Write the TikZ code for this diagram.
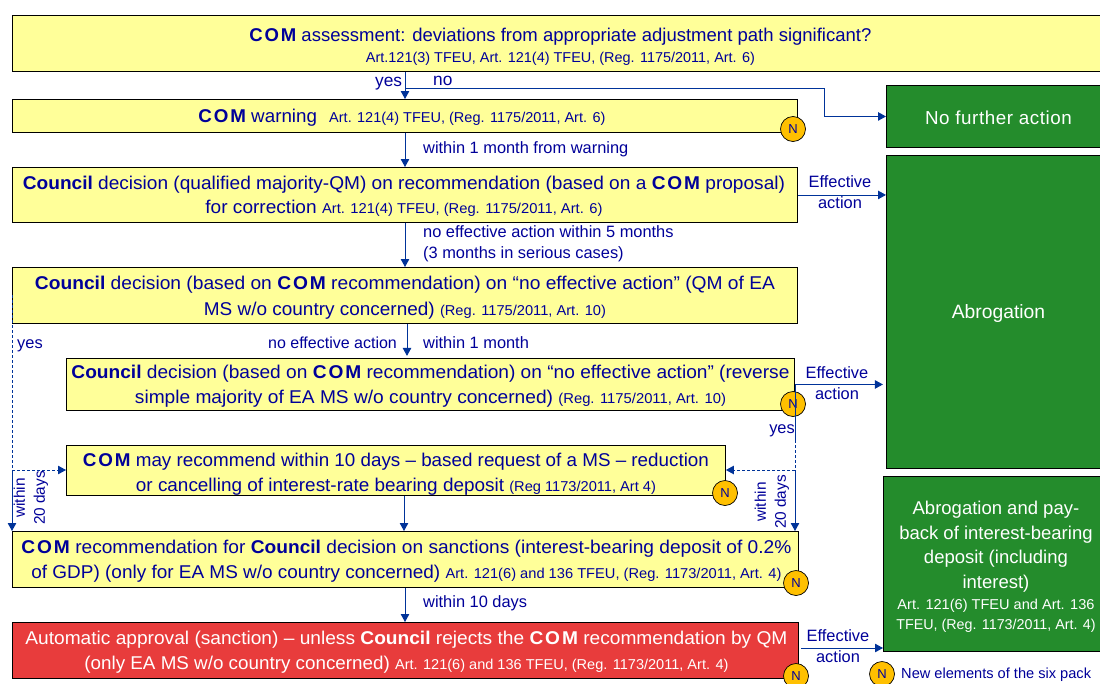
\documentclass[tikz,border=0pt]{standalone}
\usepackage{graphicx}
\usepackage{fontspec}
\setmainfont{Liberation Sans}
\usetikzlibrary{arrows.meta}
\definecolor{navy}{RGB}{0,0,153}
\definecolor{flowblue}{RGB}{0,51,153}
\definecolor{ybox}{RGB}{255,255,153}
\definecolor{gbox}{RGB}{36,140,44}
\definecolor{rbox}{RGB}{232,60,60}
\definecolor{ncirc}{RGB}{255,192,0}
\newcommand\BT[4]{\makebox[0pt][c]{\hspace*{\dimexpr2pt*\numexpr#1\relax\relax}\raisebox{\dimexpr#2pt-5pt\relax}[0pt][0pt]{\fontsize{18.5}{#3}\selectfont\begin{tabular}{@{}c@{}}#4\end{tabular}}}}
\newcommand\FW[2]{\resizebox{#1pt}{\height}{#2}}
\newcommand\COMb{{\bfseries\addfontfeature{LetterSpace=10}COM}}
\newcommand\Cb{\textbf{Council}}
\newcommand\sm[1]{{\fontsize{14.3}{16}\selectfont #1}}
\tikzset{
 x=1pt,y=-1pt,
 flowbox/.style={draw=black,line width=.9pt,fill=ybox,text=navy,inner sep=0pt,anchor=north west},
 greenbox/.style={flowbox,fill=gbox,text=white},
 redbox/.style={flowbox,fill=rbox,text=white},
 newmark/.style={circle,draw=black,line width=.7pt,fill=ncirc,text=navy,minimum size=25pt,inner sep=0pt,font=\fontsize{13}{15}\selectfont},
 lab/.style={text=navy,inner sep=0pt,font=\fontsize{16.4}{18}\selectfont,align=center},
 flow/.style={draw=flowblue,line width=.9pt,-{Triangle[length=8pt,width=8.5pt]}},
 dflow/.style={flow,dash pattern=on 3pt off 2pt},
 flowplain/.style={draw=flowblue,line width=.9pt},
 dplain/.style={flowplain,dash pattern=on 3pt off 2pt},
}
\begin{document}
\begin{tikzpicture}
\useasboundingbox (0,0) rectangle (1100,683);
% boxes
\node[flowbox,minimum width=1090pt,minimum height=56pt] (top) at (12,15) {\BT{3}{-4}{21}{\FW{622}{\COMb{} assessment: deviations from appropriate adjustment path significant?}\\\FW{389}{\sm{Art.121(3) TFEU, Art. 121(4) TFEU, (Reg. 1175/2011, Art. 6)}}}};
\node[flowbox,minimum width=785pt,minimum height=33pt] (warn) at (12,99) {\BT{-3}{-2}{21}{\FW{407}{\COMb{} warning\hspace{12pt}\sm{Art. 121(4) TFEU, (Reg. 1175/2011, Art. 6)}}}};
\node[flowbox,minimum width=785pt,minimum height=55pt] (rec) at (12,167) {\BT{-1}{-1}{24}{\FW{762}{\Cb{} decision (qualified majority-QM) on recommendation (based on a \COMb{} proposal)}\\\FW{397}{for correction \sm{Art. 121(4) TFEU, (Reg. 1175/2011, Art. 6)}}}};
\node[flowbox,minimum width=785pt,minimum height=56pt] (net) at (12,267) {\BT{0}{-1.5}{26}{\FW{740}{\Cb{} decision (based on \COMb{} recommendation) on “no effective action” (QM of EA}\\\FW{402}{MS w/o country concerned) \sm{(Reg. 1175/2011, Art. 10)}}}};
\node[flowbox,minimum width=728pt,minimum height=52pt] (rev) at (66,358) {\BT{0}{-1}{25}{\FW{718}{\Cb{} decision (based on \COMb{} recommendation) on “no effective action” (reverse}\\\FW{591}{simple majority of EA MS w/o country concerned) \sm{(Reg. 1175/2011, Art. 10)}}}};
\node[flowbox,minimum width=659pt,minimum height=50pt] (may) at (66,445) {\BT{0}{-2.5}{25}{\FW{626}{\COMb{} may recommend within 10 days – based request of a MS – reduction}\\\FW{520}{or cancelling of interest-rate bearing deposit \sm{(Reg 1173/2011, Art 4)}}}};
\node[flowbox,minimum width=786pt,minimum height=56pt] (san) at (12,531) {\BT{1}{-1}{25}{\FW{770}{\COMb{} recommendation for \Cb{} decision on sanctions (interest-bearing deposit of 0.2\%}\\\FW{750}{of GDP) (only for EA MS w/o country concerned) \sm{Art. 121(6) and 136 TFEU, (Reg. 1173/2011, Art. 4)}}}};
\node[redbox,minimum width=786pt,minimum height=56pt] (auto) at (12,622) {\BT{1}{-1}{25}{\FW{762}{Automatic approval (sanction) – unless \Cb{} rejects the \COMb{} recommendation by QM}\\\FW{644}{(only EA MS w/o country concerned) \sm{Art. 121(6) and 136 TFEU, (Reg. 1173/2011, Art. 4)}}}};
\node[greenbox,minimum width=214pt,minimum height=62pt] (nofa) at (886,85) {\BT{5}{-3}{20}{\fontsize{18.8}{20}\selectfont\addfontfeature{LetterSpace=3}No further action}};
\node[greenbox,minimum width=214pt,minimum height=313pt] (abro) at (886,155) {\BT{5}{-2}{20}{\fontsize{19.3}{20}\selectfont Abrogation}};
\node[greenbox,minimum width=217pt,minimum height=175pt] (payb) at (883,476) {\BT{4}{-2.5}{24.5}{Abrogation and pay-\\back of interest-bearing\\deposit (including\\interest)\\[-3pt]\FW{197}{\sm{Art. 121(6) TFEU and Art. 136}}\\[-5pt]\sm{TFEU, (Reg. 1173/2011, Art. 4)}}};
% marks
\node[newmark] (n1) at (793,129) {N};
\node[newmark] (n2) at (793,404) {N};
\node[newmark] (n3) at (725,493) {N};
\node[newmark] (n4) at (796,583) {N};
\node[newmark] (n5) at (796,676) {N};
\node[newmark] (n6) at (882,674) {N};
\node[lab,anchor=west,font=\fontsize{14.6}{16}\selectfont] (legend) at (901,675) {New elements of the six pack};
% helper columns
\coordinate (c405) at (405,0);
\coordinate (c407) at (407,0);
\coordinate (c404) at (404,0);
\coordinate (tee) at (405,88);
\coordinate (elbow) at (824,88);
\coordinate (rr) at (795,0);
\coordinate (ll) at (12,0);
\coordinate (lb) at (12,470);
\coordinate (rb) at (795,470);
\coordinate (rm) at (795,440);
% connectors
\draw[flow] (top.south -| c405) -- (warn.north -| c405);
\draw[flow] (tee) -- (elbow) |- (nofa.west);
\draw[flow] (warn.south -| c405) -- (rec.north -| c405);
\draw[flow] (rec.south -| c405) -- (net.north -| c405);
\draw[flow] (rec.east) -- (abro.west |- rec.east);
\draw[flow] (net.south -| c407) -- ++(0,32);
\draw[flow] (rev.east) -- ++(88,0);
\draw[flowplain] (rev.east -| rr) -- (rm);
\draw[dplain] (rm) -- (rb);
\draw[flow] (rb) -- (san.north -| rr);
\draw[dflow] (rb) -- (may.east |- rb);
\draw[dplain] (net.west) -- (lb);
\draw[flow] (lb) -- (san.north -| ll);
\draw[dflow] (lb) -- (may.west |- lb);
\draw[flow] (may.south -| c404) -- (san.north -| c404);
\draw[flow] (san.south -| c405) -- (auto.north -| c405);
\draw[flow] (801,648) coordinate (aout) -- (payb.west |- aout);
% labels
\node[lab,anchor=west,font=\fontsize{17.3}{19}\selectfont] (y1) at (375,84) {yes};
\node[lab,anchor=west,font=\fontsize{17.3}{19}\selectfont] (n0) at (433,81) {no};
\node[lab,anchor=west] (t1) at (423,149) {within 1 month from warning};
\node[lab] (e1) at (840,192) {Effective\\[3pt]action};
\node[lab,anchor=north west,align=left] (t2) at (423,225) {no effective action within 5 months\\[3pt](3 months in serious cases)};
\node[lab,anchor=west] (y2) at (17,346) {yes};
\node[lab,anchor=west,font=\fontsize{16}{18}\selectfont] (t3) at (268,343) {no effective action};
\node[lab,anchor=west] (t4) at (423,343) {within 1 month};
\node[lab] (e2) at (837,383) {Effective\\[3pt]action};
\node[lab,anchor=center] (y3) at (782,431) {yes};
\node[lab,rotate=90,font=\fontsize{15.4}{17}\selectfont] (w1) at (31,498) {within\\[3pt]20 days};
\node[lab,rotate=90,font=\fontsize{15.4}{17}\selectfont] (w2) at (772,502) {within\\[3pt]20 days};
\node[lab,anchor=west] (t5) at (423,603) {within 10 days};
\node[lab] (e3) at (838,646) {Effective\\[3pt]action};
\end{tikzpicture}
\end{document}
